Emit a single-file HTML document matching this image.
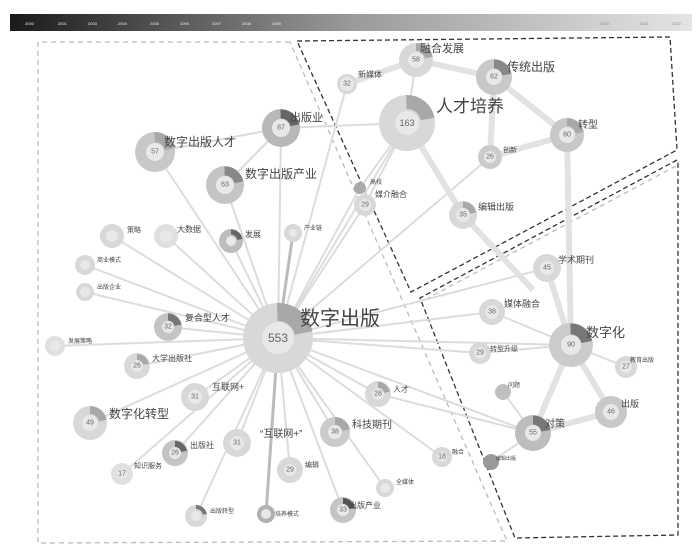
<!DOCTYPE html>
<html><head><meta charset="utf-8"><style>
body{margin:0;background:#fff}
svg{display:block;font-family:"Liberation Sans","Noto Sans CJK SC",sans-serif}
.o{fill:#d8d8d8}
.w{fill:none;stroke:#a8a8a8;stroke-dasharray:22 78}
.c{fill:#e8e8e8}
.num{font-size:7px;fill:#666;text-anchor:middle;dominant-baseline:central}
.l{fill:#444}
.e{stroke:#dcdcdc;fill:none}
</style></head><body>
<svg width="700" height="558" viewBox="0 0 700 558">
<defs><linearGradient id="g" x1="0" x2="1"><stop offset="0" stop-color="#1a1a1a"/><stop offset="0.5" stop-color="#9a9a9a"/><stop offset="1" stop-color="#e4e4e4"/></linearGradient></defs>
<rect x="10" y="14" width="682" height="17" fill="url(#g)"/>
<g font-size="4" fill="#eee">
<text x="25" y="25">2000</text><text x="58" y="25">2001</text><text x="88" y="25">2003</text><text x="118" y="25">2004</text><text x="150" y="25">2005</text><text x="180" y="25">2006</text><text x="212" y="25">2007</text><text x="242" y="25">2008</text><text x="272" y="25">2009</text><text x="600" y="25" fill="#888">2020</text><text x="640" y="25" fill="#888">2021</text><text x="672" y="25" fill="#888">2022</text></g>
<g fill="none" stroke-width="1.3">
<path d="M290,42 L38,42 L38,543 L507,541 Z" stroke="#bbb" stroke-dasharray="5 4"/>
<path d="M297,41 L670,37 L677,150 L411,292 Z" stroke="#333" stroke-dasharray="5 3"/>
<path d="M677,160 L420,298 L515,538 L678,535 L678,160" stroke="#333" stroke-dasharray="5 3"/>
<path d="M676,166 L428,298" stroke="#bbb" stroke-dasharray="5 4"/>
</g>
<g class="e" stroke-width="2">
<path d="M278,338 L407,123 M278,338 L281,128 M278,338 L155,152 M278,338 L225,185 M278,338 L112,236 M278,338 L166,236 M278,338 L231,241 M278,338 L293,233 M278,338 L85,265 M278,338 L85,292 M278,338 L168,327 M278,338 L55,346 M278,338 L137,366 M278,338 L195,397 M278,338 L90,423 M278,338 L175,453 M278,338 L122,474 M278,338 L237,443 M278,338 L196,516 M278,338 L266,514 M278,338 L290,470 M278,338 L343,510 M278,338 L385,488 M278,338 L335,432 M278,338 L378,394 M278,338 L442,457 M278,338 L533,433 M278,338 L480,353 M278,338 L492,312 M278,338 L547,268 M278,338 L571,345 M278,338 L490,157 M278,338 L365,205 M278,338 L360,188 M278,338 L347,84"/>
<path d="M407,123 L416,60 M407,123 L365,205 M407,123 L281,128 M407,123 L360,188 M571,345 L492,312 M571,345 L480,353 M571,345 L626,367 M533,433 L503,392 M533,433 L491,462 M378,394 L533,433 M155,152 L281,128 M225,185 L281,128"/>
<path d="M347,84 L416,60 M416,60 L494,77 M494,77 L567,135 M567,135 L571,345 M571,345 L611,412 M611,412 L533,433 M533,433 L571,345 M494,77 L490,157 M490,157 L567,135 M571,345 L547,268 M407,123 L463,215 M463,215 L533,290" stroke-width="6" stroke="#e2e2e2"/>
<path d="M278,338 L266,514 M278,338 L293,233" stroke="#bbb" stroke-width="3"/>
</g>
<g>
<g transform="translate(278,338)"><circle r="35" class="o"/><circle r="26" class="w" stroke-width="18" pathLength="100" transform="rotate(-90)"/><circle r="16" class="c"/><text class="num" style="font-size:12px">553</text></g>
<g transform="translate(407,123)"><circle r="28" class="o"/><circle r="21" class="w" stroke-width="14" pathLength="100" transform="rotate(-90)"/><circle r="12" class="c"/><text class="num" style="font-size:9px">163</text></g>
<g transform="translate(416,60)"><circle r="17" class="o"/><circle r="13" class="w" stroke-width="8" pathLength="100" transform="rotate(-90)"/><circle r="8" class="c"/><text class="num">58</text></g>
<g transform="translate(494,77)"><circle r="18" class="o" style="fill:#c8c8c8"/><circle r="13" class="w" stroke-width="9" pathLength="100" transform="rotate(-90)" style="stroke:#888"/><circle r="8" class="c"/><text class="num">62</text></g>
<g transform="translate(347,84)"><circle r="10" class="o"/><circle r="7" class="c"/><text class="num">32</text></g>
<g transform="translate(567,135)"><circle r="17" class="o" style="fill:#c8c8c8"/><circle r="13" class="w" stroke-width="8" pathLength="100" transform="rotate(-90)"/><circle r="8" class="c"/><text class="num">80</text></g>
<g transform="translate(490,157)"><circle r="12" class="o" style="fill:#cbcbcb"/><circle r="6" class="c"/><text class="num">26</text></g>
<g transform="translate(365,205)"><circle r="11" class="o"/><circle r="6" class="c"/><text class="num">29</text></g>
<g transform="translate(360,188)"><circle r="6" class="o" style="fill:#aaa"/></g>
<g transform="translate(463,215)"><circle r="14" class="o"/><circle r="10" class="w" stroke-width="7" pathLength="100" transform="rotate(-90)"/><circle r="7" class="c"/><text class="num">35</text></g>
<g transform="translate(281,128)"><circle r="19" class="o" style="fill:#b8b8b8"/><circle r="14" class="w" stroke-width="9" pathLength="100" transform="rotate(-90)" style="stroke:#666"/><circle r="9" class="c"/><text class="num">87</text></g>
<g transform="translate(155,152)"><circle r="20" class="o" style="fill:#c8c8c8"/><circle r="15" class="w" stroke-width="10" pathLength="100" transform="rotate(-90)"/><circle r="9" class="c"/><text class="num">57</text></g>
<g transform="translate(225,185)"><circle r="19" class="o" style="fill:#c4c4c4"/><circle r="14" class="w" stroke-width="9" pathLength="100" transform="rotate(-90)" style="stroke:#888"/><circle r="9" class="c"/><text class="num">63</text></g>
<g transform="translate(547,268)"><circle r="14" class="o"/><circle r="7" class="c"/><text class="num">45</text></g>
<g transform="translate(492,312)"><circle r="13" class="o"/><circle r="7" class="c"/><text class="num">38</text></g>
<g transform="translate(571,345)"><circle r="22" class="o" style="fill:#cbcbcb"/><circle r="16" class="w" stroke-width="11" pathLength="100" transform="rotate(-90)" style="stroke:#777"/><circle r="10" class="c"/><text class="num">90</text></g>
<g transform="translate(480,353)"><circle r="11" class="o"/><circle r="6" class="c"/><text class="num">29</text></g>
<g transform="translate(626,367)"><circle r="11" class="o"/><circle r="6" class="c"/><text class="num">27</text></g>
<g transform="translate(503,392)"><circle r="8" class="o" style="fill:#c0c0c0"/></g>
<g transform="translate(611,412)"><circle r="16" class="o" style="fill:#c8c8c8"/><circle r="8" class="c"/><text class="num">46</text></g>
<g transform="translate(533,433)"><circle r="18" class="o" style="fill:#bdbdbd"/><circle r="13" class="w" stroke-width="9" pathLength="100" transform="rotate(-90)" style="stroke:#777"/><circle r="8" class="c"/><text class="num">55</text></g>
<g transform="translate(442,457)"><circle r="10" class="o"/><circle r="5" class="c"/><text class="num">18</text></g>
<g transform="translate(491,462)"><circle r="8" class="o" style="fill:#999"/></g>
<g transform="translate(378,394)"><circle r="13" class="o"/><circle r="9" class="w" stroke-width="6" pathLength="100" transform="rotate(-90)"/><circle r="6" class="c"/><text class="num">28</text></g>
<g transform="translate(335,432)"><circle r="15" class="o" style="fill:#cbcbcb"/><circle r="11" class="w" stroke-width="8" pathLength="100" transform="rotate(-90)"/><circle r="7" class="c"/><text class="num">38</text></g>
<g transform="translate(290,470)"><circle r="13" class="o"/><circle r="6" class="c"/><text class="num">29</text></g>
<g transform="translate(385,488)"><circle r="9" class="o"/><circle r="5" class="c"/></g>
<g transform="translate(343,510)"><circle r="13" class="o" style="fill:#c4c4c4"/><circle r="9" class="w" stroke-width="6" pathLength="100" transform="rotate(-90)" style="stroke:#555"/><circle r="6" class="c"/><text class="num">33</text></g>
<g transform="translate(266,514)"><circle r="9" class="o" style="fill:#b0b0b0"/><circle r="5" class="c"/></g>
<g transform="translate(196,516)"><circle r="11" class="o"/><circle r="9" class="w" stroke-width="4" pathLength="100" transform="rotate(-90)" style="stroke:#777"/><circle r="5" class="c"/></g>
<g transform="translate(237,443)"><circle r="14" class="o"/><circle r="7" class="c"/><text class="num">31</text></g>
<g transform="translate(175,453)"><circle r="13" class="o" style="fill:#c4c4c4"/><circle r="9" class="w" stroke-width="6" pathLength="100" transform="rotate(-90)" style="stroke:#666"/><circle r="6" class="c"/><text class="num">26</text></g>
<g transform="translate(122,474)"><circle r="11" class="o" style="fill:#e0e0e0"/><circle r="5" class="c"/><text class="num">17</text></g>
<g transform="translate(90,423)"><circle r="17" class="o"/><circle r="13" class="w" stroke-width="8" pathLength="100" transform="rotate(-90)"/><circle r="8" class="c"/><text class="num">49</text></g>
<g transform="translate(195,397)"><circle r="14" class="o"/><circle r="7" class="c"/><text class="num">31</text></g>
<g transform="translate(137,366)"><circle r="13" class="o"/><circle r="9" class="w" stroke-width="6" pathLength="100" transform="rotate(-90)"/><circle r="6" class="c"/><text class="num">26</text></g>
<g transform="translate(55,346)"><circle r="10" class="o" style="fill:#e0e0e0"/><circle r="5" class="c"/></g>
<g transform="translate(168,327)"><circle r="14" class="o" style="fill:#c4c4c4"/><circle r="10" class="w" stroke-width="7" pathLength="100" transform="rotate(-90)" style="stroke:#777"/><circle r="6" class="c"/><text class="num">32</text></g>
<g transform="translate(85,292)"><circle r="9" class="o"/><circle r="5" class="c"/></g>
<g transform="translate(85,265)"><circle r="10" class="o"/><circle r="5" class="c"/></g>
<g transform="translate(112,236)"><circle r="12" class="o"/><circle r="6" class="c"/></g>
<g transform="translate(166,236)"><circle r="12" class="o" style="fill:#e0e0e0"/><circle r="6" class="c"/></g>
<g transform="translate(231,241)"><circle r="12" class="o" style="fill:#bdbdbd"/><circle r="9" class="w" stroke-width="5" pathLength="100" transform="rotate(-90)" style="stroke:#666"/><circle r="5" class="c"/></g>
<g transform="translate(293,233)"><circle r="9" class="o"/><circle r="4" class="c"/></g>
</g>
<g class="l">
<text x="300" y="325" font-size="20">数字出版</text>
<text x="436" y="112" font-size="17">人才培养</text>
<text x="420" y="52" font-size="11">融合发展</text>
<text x="507" y="71" font-size="12">传统出版</text>
<text x="358" y="77" font-size="8">新媒体</text>
<text x="578" y="128" font-size="10">转型</text>
<text x="503" y="152" font-size="7">创新</text>
<text x="370" y="184" font-size="6">高校</text>
<text x="375" y="197" font-size="8">媒介融合</text>
<text x="478" y="210" font-size="9">编辑出版</text>
<text x="290" y="121" font-size="11">出版业</text>
<text x="164" y="146" font-size="12">数字出版人才</text>
<text x="245" y="178" font-size="12">数字出版产业</text>
<text x="558" y="263" font-size="9">学术期刊</text>
<text x="504" y="307" font-size="9">媒体融合</text>
<text x="586" y="337" font-size="13">数字化</text>
<text x="490" y="351" font-size="7">转型升级</text>
<text x="630" y="362" font-size="6">教育出版</text>
<text x="508" y="387" font-size="6">问题</text>
<text x="621" y="407" font-size="9">出版</text>
<text x="545" y="427" font-size="10">对策</text>
<text x="452" y="454" font-size="6">融合</text>
<text x="496" y="460" font-size="5">编辑出版</text>
<text x="393" y="392" font-size="8">人才</text>
<text x="352" y="428" font-size="10">科技期刊</text>
<text x="260" y="437" font-size="10">“互联网+”</text>
<text x="305" y="467" font-size="7">编辑</text>
<text x="396" y="484" font-size="6">全媒体</text>
<text x="349" y="508" font-size="8">出版产业</text>
<text x="275" y="516" font-size="6">培养模式</text>
<text x="210" y="513" font-size="6">出版转型</text>
<text x="190" y="448" font-size="8">出版社</text>
<text x="134" y="468" font-size="7">知识服务</text>
<text x="109" y="418" font-size="12">数字化转型</text>
<text x="212" y="390" font-size="9">互联网+</text>
<text x="152" y="361" font-size="8">大学出版社</text>
<text x="68" y="343" font-size="6">发展策略</text>
<text x="185" y="321" font-size="9">复合型人才</text>
<text x="97" y="289" font-size="6">出版企业</text>
<text x="97" y="262" font-size="6">商业模式</text>
<text x="127" y="232" font-size="7">策略</text>
<text x="177" y="232" font-size="8">大数据</text>
<text x="245" y="237" font-size="8">发展</text>
<text x="304" y="230" font-size="6">产业链</text>
</g>
</svg>
</body></html>
